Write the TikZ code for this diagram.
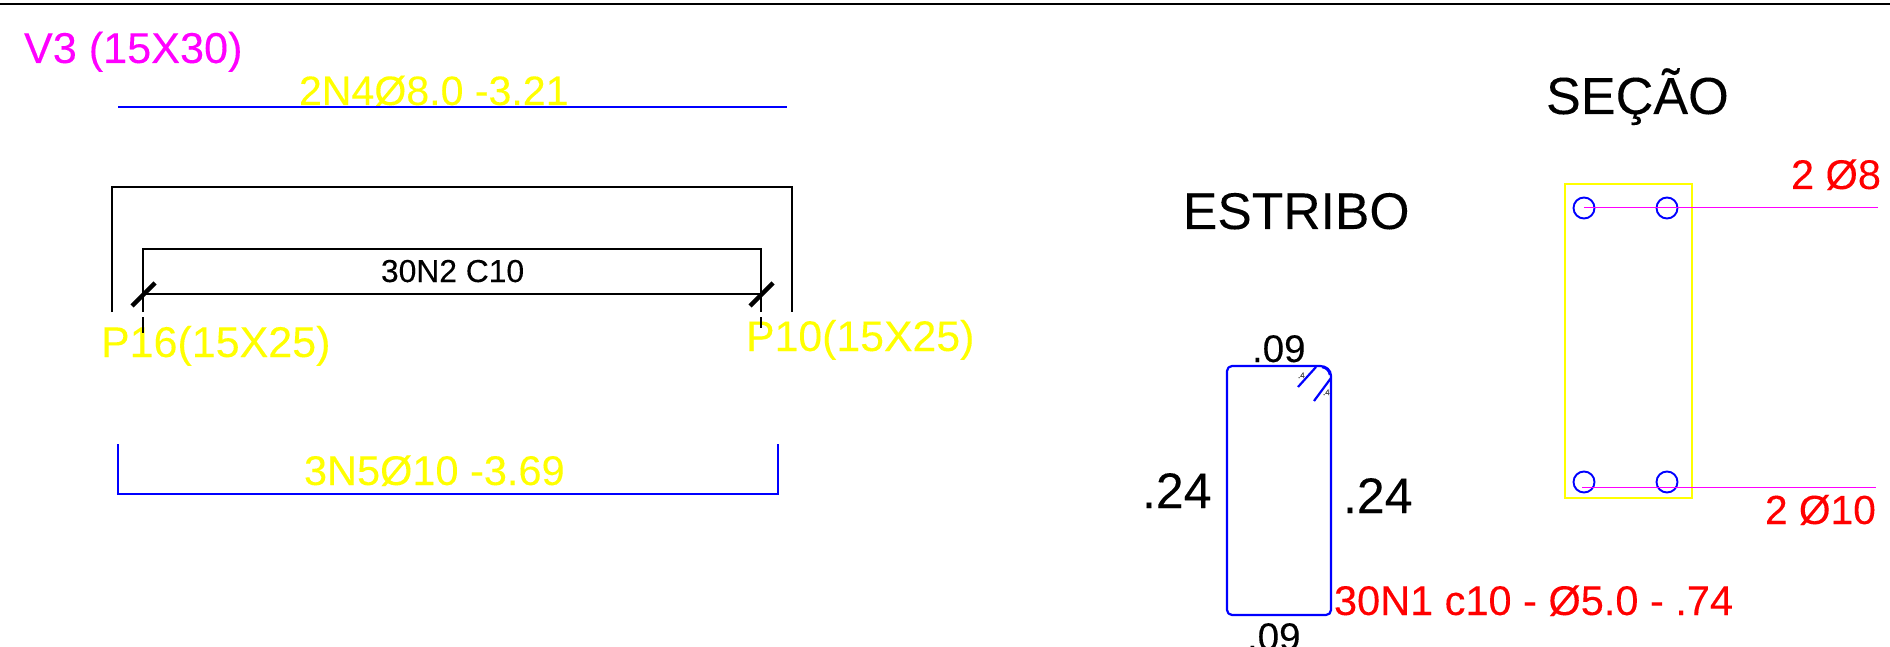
\documentclass[tikz,border=0pt]{standalone}
\usepackage{fontspec}
\setmainfont[FakeBold=0.12]{Liberation Sans}
\newcommand{\fs}[1]{\fontsize{#1}{#1}\selectfont}
\definecolor{cadyellow}{RGB}{255,255,0}
\definecolor{cadmagenta}{RGB}{255,0,255}
\definecolor{cadblue}{RGB}{0,0,255}
\definecolor{cadred}{RGB}{255,0,0}
\tikzset{
  lbl/.style={inner sep=0pt,outer sep=0pt,anchor=base west},
  ylw/.style={lbl,text=cadyellow},
  blk/.style={lbl,text=black},
  rd/.style={lbl,text=cadred},
  blackline/.style={draw=black,line width=2.1pt},
  rebar/.style={draw=cadblue,line width=2.2pt},
  leader/.style={draw=cadmagenta,line width=1pt},
  tick/.style={draw=black,line width=4.5pt},
  bar/.style={draw=cadblue,line width=1.9pt,circle,minimum size=21pt,inner sep=0pt}
}
\begin{document}
\begin{tikzpicture}[x=1pt,y=-1pt]
\clip (0,0) rectangle (1890,647);
\fill[white] (0,0) rectangle (1890,647);
% texts
\node[lbl,text=cadmagenta,font=\fs{43.2}] (v3) at (24,63) {V3 (15X30)};
\node[ylw,font=\fs{41.1}] (n4) at (299,105) {2N4Ø8.0 -3.21};
\node[ylw,font=\fs{43}] (p16) at (101,357) {P16(15X25)};
\node[ylw,font=\fs{42.8}] (p10) at (746,351) {P10(15X25)};
\node[ylw,font=\fs{41.5}] (n5) at (304,485) {3N5Ø10 -3.69};
\node[blk,font=\fs{31.8}] (n2) at (381,282) {30N2 C10};
\node[blk,font=\fs{51.6}] (estribo) at (1183,229) {ESTRIBO};
\node[blk,font=\fs{52.2}] (secao) at (1546,114) {SEÇÃO};
\node[blk,font=\fs{38.5}] (t09) at (1252,362) {.09};
\node[blk,font=\fs{38.5}] (b09) at (1247,650) {.09};
\node[blk,font=\fs{50}] (l24) at (1142,508) {.24};
\node[blk,font=\fs{50}] (r24) at (1343,513) {.24};
\node[rd,font=\fs{41.5}] (n1) at (1334,615) {30N1 c10 - Ø5.0 - .74};
\node[rd,font=\fs{41.5}] (d8) at (1791,189) {2 Ø8};
\node[rd,font=\fs{40.7}] (d10) at (1765,524) {2 Ø10};
\node[lbl,text=black!70,font=\fs{8}] (h1) at (1298,378) {.4};
\node[lbl,text=black!70,font=\fs{8}] (h2) at (1323,395) {.4};
% frame line
\draw[draw=black,line width=2.6pt] (0,4) -- (1890,4);
% top and bottom bars
\draw[rebar] (118,107) -- (787,107);
\draw[rebar] (118,444) -- (118,494) -- (778,494) -- (778,444);
% beam outline and stirrup zone
\draw[blackline] (112,312) -- (112,187) -- (792,187) -- (792,312);
\draw[blackline] (143,312) -- (143,249) -- (761,249) -- (761,312);
\draw[blackline] (143,294) -- (761,294);
\draw[blackline] (143,317) -- (143,333);
\draw[blackline] (761,317) -- (761,328);
\draw[tick] (132,306) -- (155,283);
\draw[tick] (750,306) -- (773,283);
% stirrup
\draw[rebar,rounded corners=5pt,line join=round] (1320,366) -- (1227,366) -- (1227,615) -- (1331,615) -- (1331,376);
\draw[rebar] (1320,366) .. controls (1326,366) and (1331,370) .. (1331,376);
\draw[draw=cadblue,line width=1.5pt] (1322,367.5) .. controls (1326,368) and (1329,371) .. (1329.5,375);
\draw[rebar] (1298,387) -- (1316,367);
\draw[rebar] (1314,401) -- (1331,378);
% section
\draw[draw=cadyellow,line width=1.3pt] (1565,184) rectangle (1692,498);
\node[bar] (c1) at (1584,208) {};
\node[bar] (c2) at (1667,208) {};
\node[bar] (c3) at (1584,482) {};
\node[bar] (c4) at (1667,482) {};
\coordinate (e1) at (1878,208);
\coordinate (s2) at (1582,487);
\coordinate (e2) at (1876,487);
\draw[leader] (c1.center) -- (e1);
\draw[leader] (s2) -- (e2);
\end{tikzpicture}
\end{document}
